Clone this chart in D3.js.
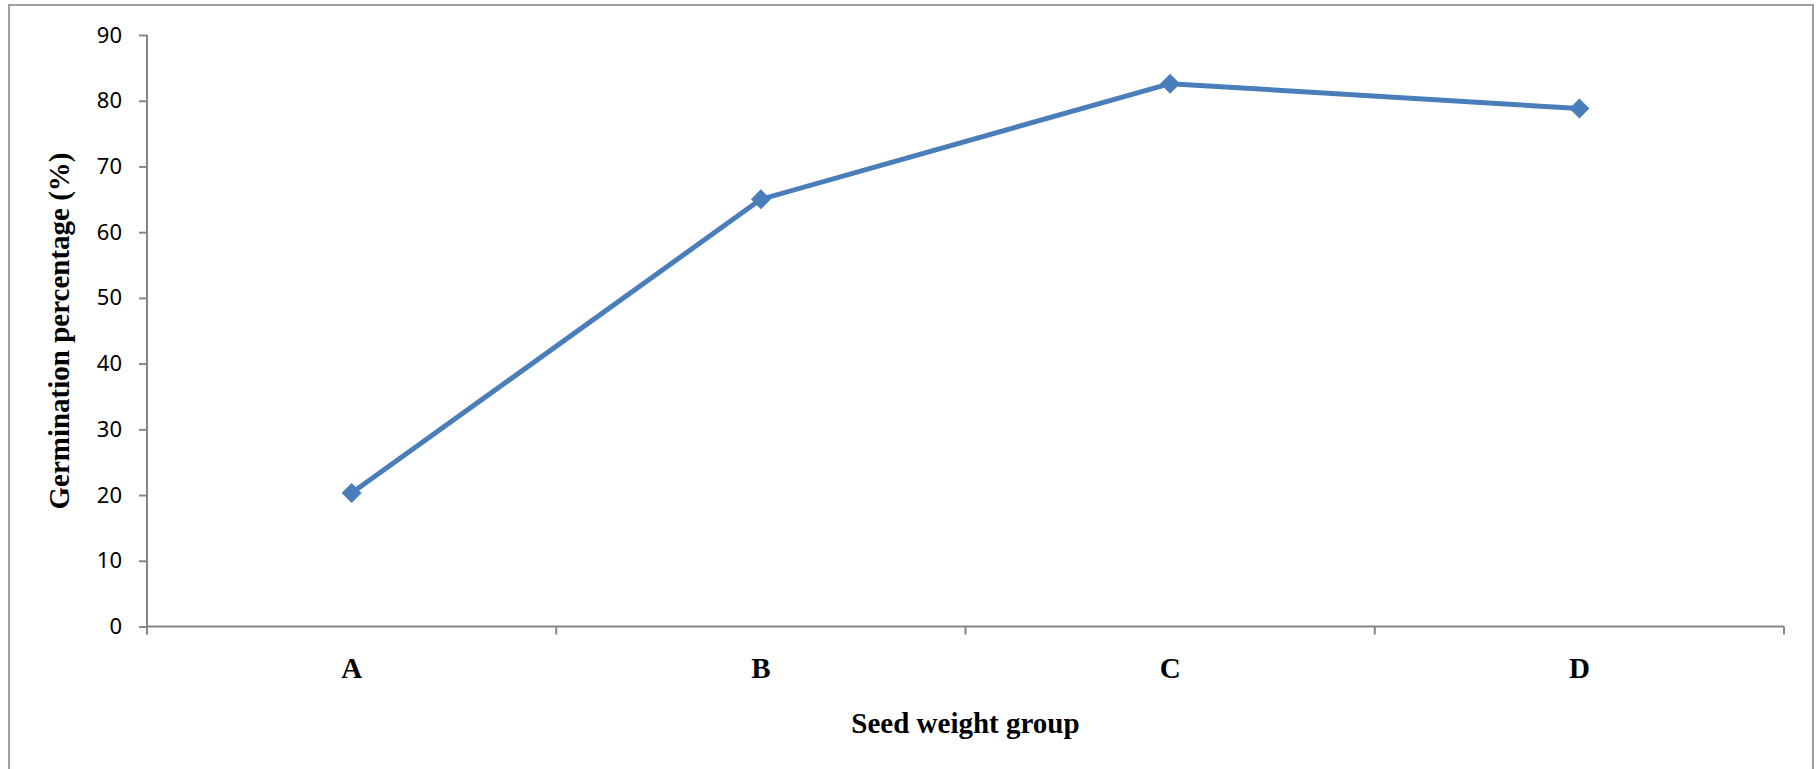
<!DOCTYPE html>
<html>
<head>
<meta charset="utf-8">
<script src="https://cdn.jsdelivr.net/npm/d3@7"></script>
<style>
  body { margin: 0; background: #fff; }
  svg { display: block; }
</style>
</head>
<body>
<div id="chart"></div>
<script>
// data
var groups = ["A", "B", "C", "D"];
var germination = [20.3, 65.0, 82.6, 78.8];
var yTicks = [0, 10, 20, 30, 40, 50, 60, 70, 80, 90];

var width = 1818, height = 769;
var plot = { left: 147, right: 1784, top: 35, bottom: 626.5 };
var lineColor = "#4a7ebb";
var axisColor = "#868686";

var svg = d3.select("#chart").append("svg")
    .attr("width", width)
    .attr("height", height);

// outer chart border
svg.append("rect")
    .attr("x", 9)
    .attr("y", 5)
    .attr("width", 1804)
    .attr("height", 780)
    .style("fill", "none")
    .style("stroke", "#a0a0a0")
    .style("stroke-width", 2);

var x = d3.scaleBand()
    .domain(groups)
    .range([plot.left, plot.right])
    .padding(0);

var y = d3.scaleLinear()
    .domain([0, 90])
    .range([plot.bottom, plot.top]);

// y axis
var yAxis = svg.append("g")
    .attr("transform", "translate(" + plot.left + ",0)")
    .call(d3.axisLeft(y).tickValues(yTicks).tickSize(8).tickPadding(17));
yAxis.select(".domain").attr("d", "M0," + y(90) + "V" + (plot.bottom + 8));
yAxis.selectAll("line, path").style("stroke", axisColor).style("stroke-width", 2);
yAxis.selectAll("text")
    .style("font-family", "'Noto Sans', sans-serif")
    .style("font-size", "22px")
    .style("fill", "#000");

// x axis line and ticks at band edges
var edges = groups.map(function(d) { return x(d); }).concat([plot.right]);
var xAxis = svg.append("g");
xAxis.append("line")
    .attr("x1", plot.left).attr("x2", plot.right)
    .attr("y1", y(0)).attr("y2", y(0));
xAxis.selectAll(".tick")
    .data(edges)
    .enter().append("line")
    .attr("x1", function(d) { return d; })
    .attr("x2", function(d) { return d; })
    .attr("y1", y(0))
    .attr("y2", y(0) + 8);
xAxis.selectAll("line").style("stroke", axisColor).style("stroke-width", 2);

// category labels
svg.selectAll(".cat")
    .data(groups)
    .enter().append("text")
    .attr("class", "cat")
    .attr("x", function(d) { return x(d) + x.bandwidth() / 2; })
    .attr("y", 678)
    .attr("text-anchor", "middle")
    .style("font-family", "'Liberation Serif', 'Times New Roman', serif")
    .style("font-weight", "bold")
    .style("font-size", "29px")
    .text(function(d) { return d; });

// axis titles
svg.append("text")
    .attr("x", (plot.left + plot.right) / 2)
    .attr("y", 733)
    .attr("text-anchor", "middle")
    .style("font-family", "'Liberation Serif', 'Times New Roman', serif")
    .style("font-weight", "bold")
    .style("font-size", "29px")
    .text("Seed weight group");

svg.append("text")
    .attr("transform", "translate(69," + 331 + ") rotate(-90)")
    .attr("text-anchor", "middle")
    .style("font-family", "'Liberation Serif', 'Times New Roman', serif")
    .style("font-weight", "bold")
    .style("font-size", "29px")
    .text("Germination percentage (%)");

// series line
var pts = groups.map(function(g, i) { return { g: g, v: germination[i] }; });
var line = d3.line()
    .x(function(d) { return x(d.g) + x.bandwidth() / 2; })
    .y(function(d) { return y(d.v); });

svg.append("path")
    .datum(pts)
    .attr("d", line)
    .style("fill", "none")
    .style("stroke", lineColor)
    .style("stroke-width", 5)
    .style("stroke-linejoin", "round");

// diamond markers
svg.selectAll(".marker")
    .data(pts)
    .enter().append("path")
    .attr("class", "marker")
    .attr("d", d3.symbol().type(d3.symbolSquare).size(200))
    .attr("transform", function(d) {
        return "translate(" + (x(d.g) + x.bandwidth() / 2) + "," + y(d.v) + ") rotate(45)";
    })
    .style("fill", lineColor);
</script>
</body>
</html>
